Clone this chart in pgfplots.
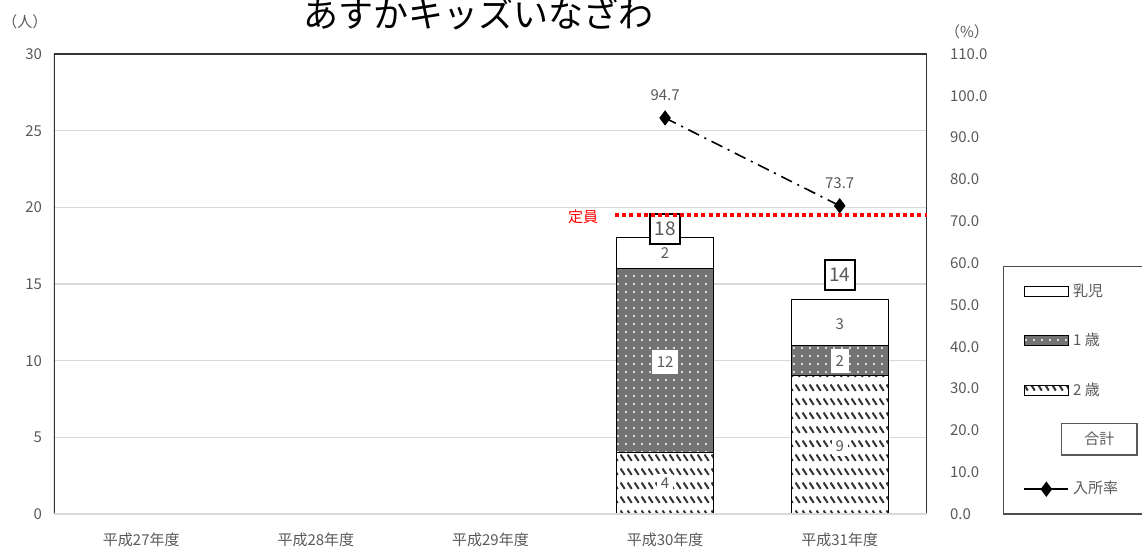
\documentclass[border=0pt]{standalone}
\usepackage{fontspec}
\setmainfont{Noto Sans CJK JP}
\usepackage{pgfplots}
\pgfplotsset{compat=1.18}
\usetikzlibrary{patterns}
\definecolor{tk}{HTML}{595959}
\definecolor{gridc}{HTML}{D9D9D9}
\newcommand{\fs}{\fontsize{7.5}{9}\selectfont}
\newcommand{\fb}{\fontsize{9.5}{11}\selectfont}
\pgfdeclarepatternformonly{wdots}{\pgfqpoint{-1pt}{-1pt}}{\pgfqpoint{3pt}{3pt}}{\pgfqpoint{4pt}{4pt}}{%
  \pgfpathcircle{\pgfqpoint{1pt}{1pt}}{0.55pt}\pgfusepath{fill}}
\pgfdeclarepatternformonly{hatchrows}{\pgfqpoint{0pt}{0pt}}{\pgfqpoint{3.3pt}{7pt}}{\pgfqpoint{3.3pt}{7pt}}{%
  \pgfsetlinewidth{1.05pt}\pgfpathmoveto{\pgfqpoint{0.3pt}{6.1pt}}\pgfpathlineto{\pgfqpoint{2.5pt}{2.7pt}}\pgfusepath{stroke}}
\pgfplotsset{
  barleg/.style={legend image code/.code={\draw[##1] (0pt,-2.5pt) rectangle (22pt,2.5pt);}},
  lineleg/.style={legend image code/.code={\draw[mark repeat=2,mark phase=2,##1,solid] plot coordinates {(0pt,0pt)(11pt,0pt)(22pt,0pt)};}},
  nyuji/.style={fill=white, draw=black, line width=0.5pt},
  ichi/.style={fill=black!55, draw=black, line width=0.5pt,
    postaction={pattern=wdots, pattern color=white}},
  nisai/.style={fill=white, draw=black, line width=0.5pt,
    postaction={pattern=hatchrows, pattern color=black!80}},
}
\begin{document}
\begin{tikzpicture}
\useasboundingbox (0,0) rectangle (571pt,275pt);
% left axis: children (stacked bars)
\begin{axis}[at={(27pt,18pt)}, anchor=south west, scale only axis,
  width=436.5pt, height=230pt,
  ybar stacked, bar width=48.5pt,
  xmin=-0.5, xmax=4.5, ymin=0, ymax=30,
  xtick={0,1,2,3,4},
  xticklabels={平成27年度,平成28年度,平成29年度,平成30年度,平成31年度},
  ytick={0,5,...,30},
  ymajorgrids, grid style={gridc, line width=0.75pt},
  major tick length=0pt, axis line style={draw=none},
  /pgf/number format/assume math mode=true,
  tick label style={font=\fs, text=tk},
  xticklabel style={yshift=-6pt},
  yticklabel style={xshift=-2.5pt},
]
\addplot[nisai] coordinates {(3,4) (4,9)};
\addplot[ichi] coordinates {(3,12) (4,2)};
\addplot[nyuji] coordinates {(3,2) (4,3)};
\end{axis}
% right axis: rate (%); labels drawn here so they sit above the bars (y in % units = people*110/30)
\begin{axis}[at={(27pt,18pt)}, anchor=south west, scale only axis,
  width=436.5pt, height=230pt,
  xmin=-0.5, xmax=4.5, ymin=0, ymax=110,
  axis x line=none, axis y line*=right, y axis line style={draw=none},
  ytick={0,10,...,110}, major tick length=0pt,
  /pgf/number format/assume math mode=true,
  yticklabel style={font=\fs, text=tk, xshift=8pt,
    /pgf/number format/.cd, fixed, fixed zerofill, precision=1},
  legend style={at={(1.087,0.539)}, anchor=north west, draw=black!70,
    font=\fs, text=tk, row sep=13pt, inner xsep=10pt, inner ysep=6.5pt,
    line width=0.6pt},
  legend cell align=left,
]
\draw[black!80, line width=0.75pt] (rel axis cs:0,0) -- (rel axis cs:0,1) -- (rel axis cs:1,1) -- (rel axis cs:1,0);
\draw[gridc, line width=0.9pt] (rel axis cs:0,0) -- (rel axis cs:1,0);
\node[font=\fs, text=tk, fill=white, inner sep=2pt] at (axis cs:3,7.333) {4};
\node[font=\fs, text=tk, fill=white, inner sep=2pt] at (axis cs:4,16.13) {9};
\node[font=\fs, text=tk, fill=white, inner sep=2.5pt, minimum height=12pt] at (axis cs:3,36.3) {12};
\node[font=\fs, text=tk, fill=white, inner sep=2.5pt, minimum height=12pt] at (axis cs:4,36.67) {2};
\node[font=\fs, text=tk] at (axis cs:3,62.33) {2};
\node[font=\fs, text=tk] at (axis cs:4,45.47) {3};
\node[font=\fb, text=tk, draw=black, line width=0.9pt, fill=white, minimum width=15pt, minimum height=15pt, inner sep=0pt] at (axis cs:3,68.2) {18};
\node[font=\fb, text=tk, draw=black, line width=0.9pt, fill=white, minimum width=15pt, minimum height=15pt, inner sep=0pt] at (axis cs:4,57.2) {14};
\draw[red, line width=2pt, dash pattern=on 2pt off 1.6pt] (axis cs:2.713,71.5) -- (axis cs:4.5,71.5);
\node[anchor=east, text=red, font=\fs, inner sep=1pt] at (axis cs:2.63,71.1) {定員};
\addlegendimage{barleg, nyuji}
\addlegendentry{乳児}
\addlegendimage{barleg, ichi}
\addlegendentry{1 歳}
\addlegendimage{barleg, nisai}
\addlegendentry{2 歳}
\addlegendimage{empty legend}
\addlegendentry{\hspace*{-6pt}\raisebox{0pt}[6pt][1.5pt]{\fboxsep=2pt\fboxrule=0.6pt\fbox{\makebox[33pt]{\rule[-3pt]{0pt}{11pt}合計}}}}
\addplot[black, line width=0.8pt, dash pattern=on 6pt off 3pt on 1pt off 3pt,
  mark=diamond*, mark size=3.2pt, mark options={solid}, lineleg,
  nodes near coords, point meta=y,
  nodes near coords style={font=\fs, text=tk, anchor=south, yshift=5pt,
    /pgf/number format/.cd, fixed, fixed zerofill, precision=1}]
  coordinates {(3,94.7) (4,73.7)};
\addlegendentry{入所率}
\end{axis}
\node[font=\fontsize{17.5}{20}\selectfont] at (239pt,268pt) {あすかキッズいなざわ};
\node[font=\fs, text=tk] at (12.5pt,264pt) {（人）};
\node[font=\fs, text=tk] at (483.5pt,259pt) {（\%）};
\end{tikzpicture}
\end{document}
